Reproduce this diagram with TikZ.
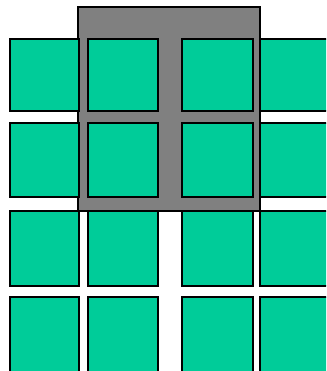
\documentclass[tikz,border=0pt]{standalone}
\usepackage{tikz}

\definecolor{cellgreen}{HTML}{00CC99}
\definecolor{backgray}{HTML}{808080}

\tikzset{
  cell/.style={draw=black, fill=cellgreen, line width=1.6pt},
  backdrop/.style={draw=black, fill=backgray, line width=1.6pt}
}

\begin{document}
\begin{tikzpicture}[x=1pt, y=-1pt]
    \useasboundingbox (0,0) rectangle (326,371);
    \clip (0,0) rectangle (326,371);
    \draw[backdrop] (78,7) rectangle (260,211);
    \foreach \xa/\xb in {10/79, 88/158, 182/253, 260/330}
        \foreach \ya/\yb in {39/111, 123/197, 211/286, 297/375}
            \draw[cell] (\xa,\ya) rectangle (\xb,\yb);
\end{tikzpicture}
\end{document}
